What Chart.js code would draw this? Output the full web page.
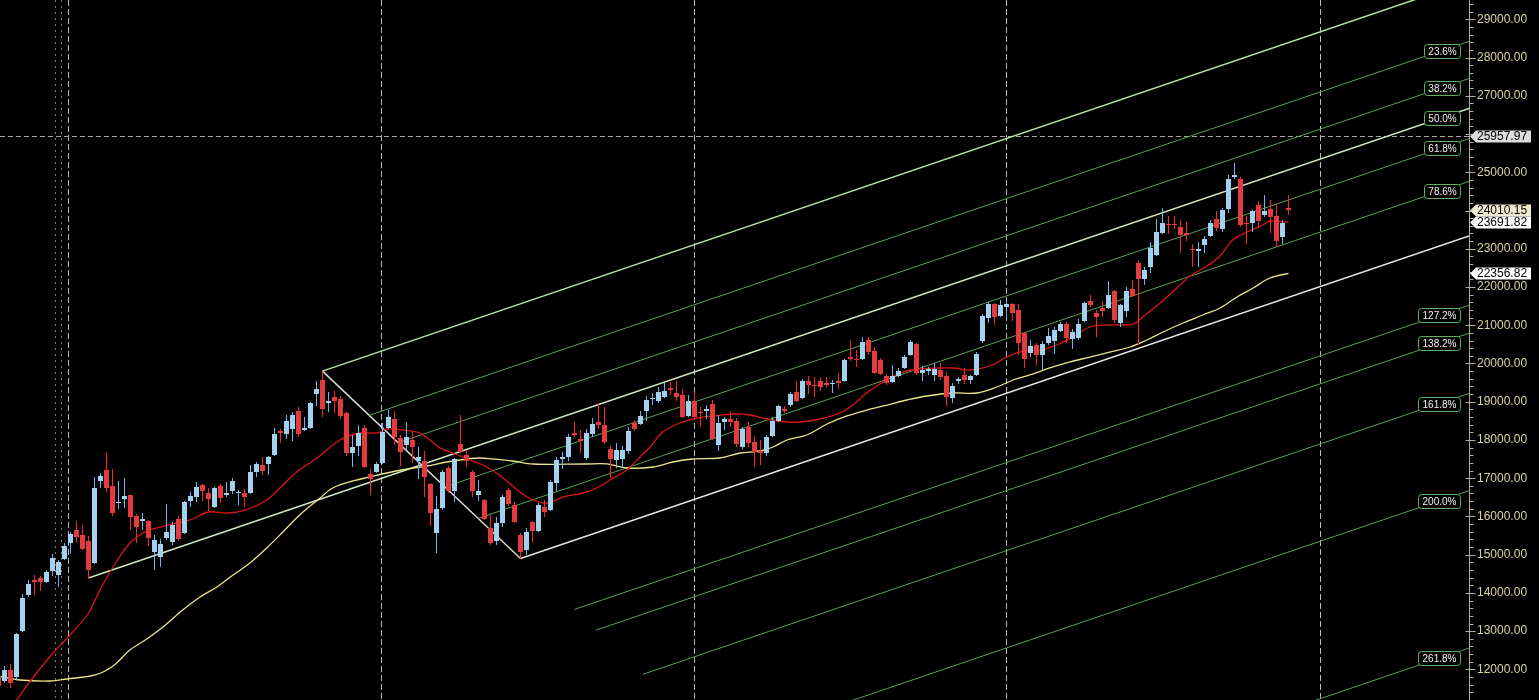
<!DOCTYPE html>
<html>
<head>
<meta charset="utf-8">
<title>Weekly chart - Fibonacci channel</title>
<script src="https://cdn.jsdelivr.net/npm/chart.js@4.4.1/dist/chart.umd.min.js"></script>
<style>
    html, body { margin: 0; padding: 0; background: #000; }
    #wrap { width: 1539px; height: 700px; }
</style>
</head>
<body>
<div id="wrap"><canvas id="chart"></canvas></div>
<script>
// weekly bars, index 0 is the first (half hidden) bar on the left
const opens = [11827, 11697, 11984, 11801, 13004, 13946, 14338, 14390, 14285, 14573,
    14469, 14887, 15306, 15645, 15515, 15358, 14782, 16927, 17214, 16796,
    16351, 16456, 16561, 16011, 15881, 15881, 15070, 14939, 15437, 15332,
    15933, 15567, 16404, 16508, 16822, 16613, 16247, 16796, 16561, 16665,
    16613, 16613, 16613, 17162, 17345, 17372, 17607, 18234, 18156, 18287,
    18757, 18260, 18313, 19202, 19568, 18967, 19124, 19071, 18705, 17659,
    17842, 18313, 17110, 17162, 17398, 18313, 18548, 18051, 17868, 17999,
    17450, 17450, 16848, 15567, 16221, 17267, 16665, 17894, 17607, 17162,
    16561, 16430, 15698, 15358, 15829, 16691, 16299, 15515, 15122, 15855,
    15620, 16247, 16168, 16875, 17502, 17555, 18182, 18025, 17528, 18156,
    18470, 18391, 17764, 17476, 17502, 17711, 18444, 18418, 18757, 19071,
    19019, 19124, 19359, 19228, 19176, 18627, 19019, 18731, 18757, 18940,
    17868, 18470, 18548, 18496, 17816, 18339, 17947, 17711, 17659, 18104,
    18496, 18810, 18914, 19254, 19097, 19542, 19437, 19542, 19489, 19463,
    19542, 19542, 20169, 20117, 20117, 20614, 20326, 20091, 19672, 19515,
    19672, 19882, 20222, 20509, 19751, 19803, 19699, 19829, 19672, 19097,
    19542, 19699, 19568, 19699, 20588, 21189, 21555, 21241, 21477, 21555,
    21398, 20797, 20274, 20483, 20222, 20536, 20588, 20849, 21032, 20640,
    20666, 21111, 21634, 21320, 21451, 21451, 21895, 21058, 21372, 21948,
    22627, 22209, 22523, 22837, 23412, 23647, 23647, 23569, 23412, 22994,
    22941, 23098, 23334, 23778, 23517, 24040, 24876, 24824, 23674, 23674,
    24144, 23883, 24040, 23857, 23307, 24066];
const highs = [11932, 12089, 12141, 12952, 13972, 14338, 14469, 14442, 14599, 15018,
    14861, 15306, 15593, 15881, 15776, 15489, 17032, 17136, 17685, 17241,
    16927, 17006, 16570, 16064, 16090, 15907, 15515, 15410, 16325, 15855,
    16011, 16404, 16639, 16901, 16849, 16744, 16770, 16849, 16901, 17006,
    16691, 16718, 17345, 17424, 17555, 17581, 18313, 18287, 18653, 18731,
    18862, 18600, 18993, 19542, 19800, 19254, 19280, 19150, 18731, 18130,
    18391, 18391, 17241, 17424, 18444, 18783, 18757, 18130, 18470, 18234,
    17816, 17712, 16875, 16535, 17214, 17319, 17528, 18653, 17737, 17214,
    16953, 16456, 16038, 15986, 16561, 16744, 16378, 15567, 15698, 15881,
    16351, 16430, 16953, 17555, 17685, 18156, 18470, 18260, 18287, 18574,
    18967, 18862, 17842, 17921, 17842, 18339, 18522, 18757, 19150, 19228,
    19385, 19489, 19515, 19542, 19333, 19176, 19254, 18862, 18914, 19045,
    18653, 18600, 18757, 18574, 18339, 18470, 18104, 17999, 18130, 18600,
    18914, 18888, 19254, 19542, 19594, 19672, 19646, 19646, 19646, 19568,
    19751, 20117, 20614, 20352, 20692, 20692, 20431, 20143, 19725, 19960,
    19882, 20222, 20614, 20536, 19934, 19908, 20013, 20013, 19777, 19489,
    19646, 19882, 19699, 20300, 21294, 21608, 21581, 21660, 21660, 21581,
    21555, 20823, 20614, 20536, 20588, 20928, 20954, 21085, 21085, 20902,
    21163, 21608, 21791, 21398, 21634, 22157, 21921, 21555, 22000, 22183,
    22680, 22523, 23177, 23778, 24066, 23857, 23857, 23752, 23700, 23124,
    23177, 23334, 23752, 23987, 24066, 24929, 25243, 24876, 23857, 24013,
    24249, 24406, 24275, 24171, 23752, 24406];
const lows = [11461, 11644, 11514, 11723, 12978, 13894, 13946, 14050, 14259, 14443,
    14155, 14861, 15018, 15332, 15122, 14390, 14756, 16744, 16639, 16011,
    16195, 16221, 15645, 15306, 15645, 15227, 14599, 14678, 15384, 15253,
    15358, 15541, 16247, 16378, 16404, 16142, 16221, 16351, 16508, 16587,
    16299, 16247, 16587, 17032, 17084, 17084, 17581, 17921, 18025, 17973,
    18077, 18234, 18287, 18888, 18600, 18731, 18705, 18548, 17581, 17293,
    17581, 17267, 16561, 17136, 17372, 18287, 17868, 17319, 17737, 17398,
    16979, 16508, 15750, 15044, 16168, 16613, 16378, 17659, 17293, 16508,
    16404, 15907, 15253, 15253, 15724, 16273, 15829, 14900, 14992, 15332,
    15593, 15986, 16142, 16665, 17241, 17450, 18077, 17659, 17476, 18077,
    18287, 17894, 17005, 17267, 17293, 17633, 18234, 18391, 18496, 18914,
    18967, 19097, 19176, 19019, 18574, 18600, 18548, 18339, 18548, 17999,
    17711, 18260, 18339, 17816, 17764, 17816, 17293, 17345, 17581, 18077,
    18470, 18705, 18862, 18993, 19071, 19202, 19124, 19280, 19385, 19228,
    19333, 19515, 20065, 19908, 20091, 20222, 19725, 19699, 19437, 19489,
    19646, 19856, 20196, 19699, 19542, 19699, 19542, 19568, 18888, 18967,
    19463, 19463, 19463, 19672, 20536, 21058, 21006, 21215, 21215, 21111,
    20222, 19882, 20169, 19960, 19829, 20483, 20248, 20823, 20536, 20378,
    20614, 21085, 21477, 20692, 21215, 21425, 21058, 20954, 21215, 21739,
    20483, 22052, 22366, 22811, 23386, 23386, 23517, 22889, 23203, 22523,
    22523, 22889, 23307, 23464, 23438, 23935, 24824, 23569, 23124, 23438,
    23543, 23831, 23412, 23046, 23124, 23883];
const closes = [11566, 11984, 11644, 12926, 13867, 14233, 14285, 14285, 14547, 14913,
    14809, 15227, 15541, 15462, 15149, 14599, 16744, 17058, 16744, 16090,
    16378, 16535, 15986, 15724, 15933, 15437, 15384, 15280, 15593, 15776,
    15410, 16378, 16535, 16770, 16665, 16456, 16744, 16482, 16613, 16927,
    16639, 16508, 17162, 17372, 17189, 17555, 18156, 18182, 18496, 18653,
    18156, 18313, 18967, 19332, 18810, 19019, 19019, 18627, 17659, 17816,
    18182, 17293, 16979, 17372, 18208, 18600, 18077, 17685, 18077, 17816,
    17555, 17032, 16090, 16195, 17162, 16665, 17502, 17685, 17450, 16665,
    16665, 15933, 15306, 15829, 16508, 16325, 15855, 15070, 15593, 15620,
    16299, 16116, 16901, 17476, 17555, 18077, 18130, 17973, 18182, 18418,
    18391, 17947, 17502, 17737, 17737, 18234, 18287, 18627, 19045, 19097,
    19254, 19280, 19306, 19124, 18600, 19019, 18600, 18705, 18810, 18025,
    18444, 18548, 18470, 17894, 18287, 17921, 17685, 17659, 18077, 18496,
    18888, 18757, 19202, 19019, 19542, 19437, 19411, 19385, 19437, 19489,
    19489, 20091, 20117, 20091, 20562, 20300, 19751, 19725, 19489, 19672,
    19803, 20169, 20562, 19751, 19829, 19856, 19856, 19646, 19124, 19411,
    19594, 19568, 19672, 20248, 21241, 21555, 21215, 21529, 21555, 21320,
    20536, 20117, 20457, 20222, 20509, 20719, 20875, 21032, 20666, 20823,
    21032, 21581, 21529, 21215, 21372, 21791, 21137, 21529, 21895, 21765,
    22209, 22444, 23020, 23438, 23674, 23621, 23621, 23360, 23360, 22968,
    22994, 23255, 23674, 23543, 24013, 24824, 24929, 23621, 23647, 23987,
    23726, 23987, 23831, 23203, 23674, 24010.15];

// moving averages (bar position, value)
const maFastX = [1.5, 3.0, 5.7, 9.1, 11.6, 14.9, 16.9, 19.1, 21.9, 24.1, 26.4, 29.1, 32.4, 34.9,
    38.1, 41.1, 44.7, 47.4, 49.7, 53.1, 56.9, 60.2, 63.1, 64.7, 67.4, 70.2, 71.9, 73.6, 75.7,
    78.6, 81.4, 84.1, 86.9, 89.1, 91.4, 94.1, 97.4, 99.7, 101.9, 104.7, 106.9, 108.6, 110.7,
    113.6, 116.4, 119.1, 122.4, 125.2, 128.1, 131.4, 133.6, 136.9, 140.2, 142.4, 144.7, 147.4,
    150.2, 153.6, 159.1, 161.9, 165.2, 168.1, 170.7, 173.6, 176.4, 179.1, 181.9, 184.7, 189.1,
    190.7, 193.6, 196.4, 198.6, 201.4, 203.6, 205.7, 208.1, 210.7, 211.9, 215];
const maFastY = [10880, 11200, 11775, 12429, 12847, 13449, 14076, 14678, 15306, 15567, 15698, 15803,
    15933, 16116, 16090, 16168, 16430, 16822, 17162, 17529, 17999, 18182, 18182, 18287, 18260,
    18182, 17999, 17790, 17659, 17476, 17293, 17005, 16639, 16430, 16351, 16508, 16613, 16744,
    16953, 17214, 17555, 17816, 18208, 18444, 18574, 18627, 18679, 18653, 18548, 18470, 18470,
    18548, 18705, 18914, 19228, 19515, 19751, 19856, 19882, 19829, 19934, 20169, 20326, 20352,
    20483, 20692, 20954, 21006, 21032, 21215, 21581, 21974, 22288, 22549, 22811, 23229, 23438,
    23621, 23726, 23691.82];
const maSlowX = [0, 3.6, 8.6, 11.4, 16.1, 19.1, 21.9, 24.7, 27.4, 30.7, 33.6, 36.4, 39.1, 41.9,
    44.7, 47.4, 50.2, 53.6, 55.7, 59.1, 61.9, 64.7, 68.1, 71.4, 74.7, 78.1, 80.2, 82.4, 85.7,
    89.1, 98.1, 101.4, 104.7, 109.1, 112.4, 115.7, 120.2, 123.6, 126.9, 129.1, 131.4, 134.7,
    138.1, 141.4, 144.7, 148.1, 151.4, 154.7, 159.1, 163.1, 166.4, 169.1, 171.9, 175.2, 178.6,
    181.9, 185.2, 188.6, 191.4, 194.1, 197.4, 200.7, 203.6, 206.4, 209.1, 211.9, 215];
const maSlowY = [11827, 11723, 11697, 11749, 11854, 12089, 12507, 12795, 13109, 13553, 13894, 14155,
    14469, 14782, 15175, 15593, 16038, 16482, 16744, 16927, 17032, 17136, 17241, 17319, 17424,
    17502, 17528, 17502, 17450, 17372, 17372, 17372, 17267, 17293, 17424, 17502, 17528, 17659,
    17711, 17816, 17999, 18130, 18418, 18627, 18783, 18914, 19045, 19150, 19228, 19228, 19385,
    19568, 19699, 19882, 20039, 20169, 20300, 20431, 20614, 20823, 21058, 21268, 21451, 21739,
    21974, 22235, 22356.82];

// fibonacci channel: top anchor, bottom anchor, start of the mid trend line, slope per bar
const fibLevels = [0, 23.6, 38.2, 50, 61.8, 78.6, 100, 127.2, 138.2, 161.8, 200, 261.8];
const fibTop = {x: 54, y: 19800};
const fibBottom = {x: 87, y: 14900};
const fibMidStart = {x: 15, y: 14390};
const fibSlope = 53.36;

// period separators (bar positions), axis ticks and the price tags on the axis
const dimSeparators = [9.47, 10.47];
const separators = [11.63, 63.8, 115.9, 167.9, 220.3];
const priceTicks = [12000, 13000, 14000, 15000, 16000, 17000, 18000, 19000, 20000,
    21000, 22000, 23000, 24000, 25000, 26000, 27000, 28000, 29000];
const crossPrice = 25957.97;
const tagPrices = [25957.97, 24010.15, 23691.82, 22356.82];

const xMin = 0.25, xMax = 245.083;
const yMin = 11200, yMax = 29505;

const fibWidth = fibTop.y - fibBottom.y + fibSlope * (fibBottom.x - fibTop.x);
function fibValue(level, idx) {
    return fibTop.y + fibSlope * (idx - fibTop.x) - fibWidth * level / 100;
}
function fibStart(level) {
    if (level === 50) return fibMidStart.x;
    return fibTop.x + (fibBottom.x - fibTop.x) * level / 100;
}
function fibColor(level) {
    if (level === 0) return '#b6e4a2';
    if (level === 50) return '#cfe6c2';
    if (level === 100) return '#e6e6de';
    return '#5b9f58';
}

const up = closes.map((c, i) => c >= opens[i]);

let datasets = [];
datasets.push({
    type: 'bar',
    label: 'body',
    data: opens.map((o, i) => ({x: i, y: [o, closes[i]]})),
    backgroundColor: up.map(u => u ? '#a2d2ef' : '#e43b3e'),
    barThickness: 5,
    minBarLength: 1,
    grouped: false,
    inflateAmount: 0,
    order: 0
});
datasets.push({
    type: 'bar',
    label: 'wick',
    data: lows.map((l, i) => ({x: i, y: [l, highs[i]]})),
    backgroundColor: up.map(u => u ? '#66b9f0' : '#ff2424'),
    barThickness: 1,
    grouped: false,
    inflateAmount: 0,
    order: 1
});
datasets.push({
    type: 'line',
    label: 'ma fast',
    data: maFastX.map((x, i) => ({x: x, y: maFastY[i]})),
    borderColor: '#dc1414',
    borderWidth: 1.3,
    tension: 0.35,
    order: 2
});
datasets.push({
    type: 'line',
    label: 'ma slow',
    data: maSlowX.map((x, i) => ({x: x, y: maSlowY[i]})),
    borderColor: '#ebe48a',
    borderWidth: 1.3,
    tension: 0.35,
    order: 3
});
fibLevels.forEach(lv => {
    const s = fibStart(lv);
    datasets.push({
        type: 'line',
        label: 'fib ' + lv,
        data: [{x: s, y: fibValue(lv, s)}, {x: xMax, y: fibValue(lv, xMax)}],
        borderColor: fibColor(lv),
        borderWidth: (lv === 0 || lv === 50 || lv === 100) ? 1.5 : 1,
        tension: 0,
        order: 4
    });
});
datasets.push({
    type: 'line',
    label: 'fib diagonal',
    data: [fibTop, fibBottom],
    borderColor: '#deded2',
    borderWidth: 1.4,
    tension: 0,
    order: 4
});

function vline(ctx, px, top, bottom) {
    ctx.beginPath();
    ctx.moveTo(px, top);
    ctx.lineTo(px, bottom);
    ctx.stroke();
}

const decor = {
    id: 'decor',
    beforeDatasetsDraw(chart) {
        const {ctx, chartArea: a, scales: {x, y}} = chart;
        ctx.save();
        ctx.lineWidth = 1;
        ctx.strokeStyle = '#7a7a7a';
        ctx.setLineDash([2, 4]);
        dimSeparators.forEach(v => vline(ctx, Math.round(x.getPixelForValue(v)) + 0.5, a.top, a.bottom));
        ctx.strokeStyle = '#b8b8b8';
        ctx.setLineDash([6, 3]);
        separators.forEach(v => vline(ctx, Math.round(x.getPixelForValue(v)) + 0.5, a.top, a.bottom));
        ctx.strokeStyle = '#a6a6a6';
        ctx.setLineDash([5, 3]);
        const cy = Math.round(y.getPixelForValue(crossPrice)) + 0.5;
        ctx.beginPath();
        ctx.moveTo(a.left, cy);
        ctx.lineTo(a.right, cy);
        ctx.stroke();
        ctx.restore();
    },
    afterDraw(chart) {
        const {ctx, chartArea: a, scales: {x, y}} = chart;
        ctx.save();
        // axis tick marks, long ones at the labelled prices
        const ax = a.right + 0.5;
        ctx.strokeStyle = '#a9b594';
        ctx.lineWidth = 1;
        for (let v = 11400; v <= 29400; v += 200) {
            const py = Math.round(y.getPixelForValue(v)) + 0.5;
            ctx.beginPath();
            if (v % 1000 === 0) {
                ctx.moveTo(ax - 4, py);
                ctx.lineTo(ax + 6, py);
            } else {
                ctx.moveTo(ax, py);
                ctx.lineTo(ax + 4, py);
            }
            ctx.stroke();
        }
        // fibonacci labels
        ctx.font = '10px "Liberation Sans", Arial, sans-serif';
        ctx.textBaseline = 'middle';
        ctx.textAlign = 'center';
        fibLevels.forEach(lv => {
            if (lv === 0 || lv === 100) return;
            const txt = lv.toFixed(1) + '%';
            const w = Math.round(ctx.measureText(txt).width) + 8;
            const h = 14;
            const right = a.right - 9;
            const cx = right - w / 2;
            const cyy = y.getPixelForValue(fibValue(lv, x.getValueForPixel(cx)));
            const top = Math.round(cyy - h / 2) + 0.5;
            ctx.beginPath();
            ctx.roundRect(right - w + 0.5, top, w, h, 3);
            ctx.fillStyle = '#000';
            ctx.fill();
            ctx.strokeStyle = '#5fb35c';
            ctx.stroke();
            ctx.fillStyle = '#f2f2f2';
            ctx.fillText(txt, cx + 0.5, top + h / 2 + 0.5);
        });
        // price tags
        const fills = ['#dcdcdc', '#eeead0', '#ffffff', '#ffffff'];
        ctx.font = '12px "Liberation Sans", Arial, sans-serif';
        ctx.textAlign = 'left';
        tagPrices.forEach((v, k) => {
            const py = Math.round(y.getPixelForValue(v));
            const x0 = a.right + 1;
            ctx.beginPath();
            ctx.moveTo(x0, py + 0.5);
            ctx.lineTo(x0 + 6, py - 5.5);
            ctx.lineTo(1531, py - 5.5);
            ctx.lineTo(1531, py + 6.5);
            ctx.lineTo(x0 + 6, py + 6.5);
            ctx.closePath();
            ctx.fillStyle = fills[k];
            ctx.fill();
            ctx.fillStyle = '#000';
            ctx.fillText(v.toFixed(2), a.right + 8, py + 1);
        });
        ctx.restore();
    }
};

// a tick label that sits under a price tag is left out, as on the terminal
function hiddenByTag(v) {
    return tagPrices.some(t => Math.abs(t - v) < 200);
}

Chart.defaults.font.family = '"Liberation Sans", Arial, sans-serif';

new Chart(document.getElementById('chart').getContext('2d'), {
    type: 'bar',
    data: {datasets: datasets},
    options: {
        responsive: true,
        maintainAspectRatio: false,
        devicePixelRatio: 1,
        animation: false,
        events: [],
        layout: {padding: 0},
        elements: {point: {radius: 0}},
        plugins: {legend: {display: false}, tooltip: {enabled: false}},
        scales: {
            x: {
                type: 'linear',
                min: xMin,
                max: xMax,
                offset: false,
                display: false
            },
            y: {
                type: 'linear',
                position: 'right',
                min: yMin,
                max: yMax,
                grid: {display: false, drawTicks: false},
                border: {display: true, color: '#a9b594'},
                afterBuildTicks: scale => {
                    scale.ticks = priceTicks.map(v => ({value: v}));
                },
                ticks: {
                    autoSkip: false,
                    padding: 8,
                    color: '#d9d4a6',
                    font: {size: 12},
                    callback: v => hiddenByTag(v) ? '' : v.toFixed(2)
                },
                afterFit: scale => {
                    scale.width = 70;
                    scale.paddingTop = 0;
                    scale.paddingBottom = 0;
                }
            }
        }
    },
    plugins: [decor]
});
</script>
</body>
</html>
